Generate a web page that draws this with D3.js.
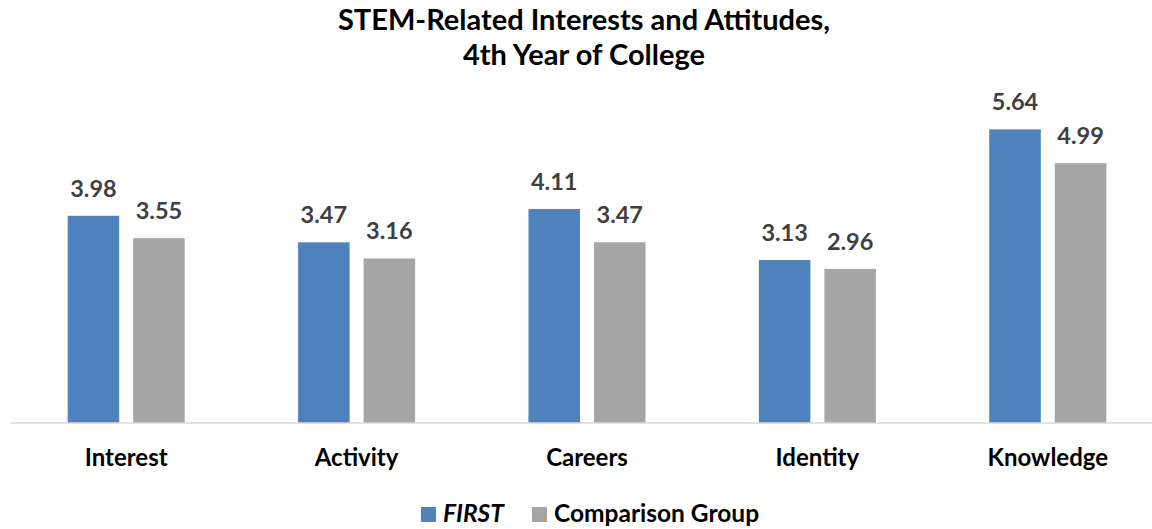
<!DOCTYPE html>
<html>
<head>
<meta charset="utf-8">
<script src="https://cdn.jsdelivr.net/npm/d3@7"></script>
<style>
  html, body { margin: 0; padding: 0; background: #fff; }
  svg { display: block; font-family: Lato, "Open Sans", sans-serif; }
</style>
</head>
<body>
<div id="chart"></div>
<script>
// data
var categories = ["Interest", "Activity", "Careers", "Identity", "Knowledge"];
var seriesNames = ["FIRST", "Comparison Group"];
var firstValues = [3.98, 3.47, 4.11, 3.13, 5.64];
var comparisonValues = [3.55, 3.16, 3.47, 2.96, 4.99];
var titleLines = ["STEM-Related Interests and Attitudes,", "4th Year of College"];

var colors = {"FIRST": "#4f81bd", "Comparison Group": "#a5a5a5"};

var width = 1152, height = 529;
var plot = {left: 11, right: 1163, top: 110.6, bottom: 423};

var svg = d3.select("#chart").append("svg")
    .attr("width", width)
    .attr("height", height);

// title
svg.append("text")
    .attr("text-anchor", "middle")
    .attr("font-weight", 700)
    .attr("font-size", 29)
    .attr("fill", "#000")
    .selectAll("tspan")
    .data(titleLines).enter()
    .append("tspan")
        .attr("x", 584)
        .attr("y", (d, i) => 30 + i * 35)
        .text(d => d);

var x0 = d3.scaleBand()
    .domain(categories)
    .range([plot.left, plot.right])
    .paddingInner(0.492)
    .paddingOuter(0.246);

var x1 = d3.scaleBand()
    .domain(seriesNames)
    .range([0, x0.bandwidth()])
    .paddingInner(0.214);

var y = d3.scaleLinear()
    .domain([0, 6])
    .range([plot.bottom, plot.top]);

var rows = categories.map((c, i) => ({
    category: c,
    values: [
        {key: "FIRST", value: firstValues[i]},
        {key: "Comparison Group", value: comparisonValues[i]}
    ]
}));

var groups = svg.append("g").selectAll("g")
    .data(rows).enter()
    .append("g")
        .attr("transform", d => `translate(${x0(d.category)},0)`);

groups.selectAll("rect")
    .data(d => d.values).enter()
    .append("rect")
        .attr("x", d => x1(d.key))
        .attr("y", d => y(d.value))
        .attr("width", x1.bandwidth())
        .attr("height", d => y(0) - y(d.value))
        .attr("fill", d => colors[d.key]);

groups.selectAll("text.value")
    .data(d => d.values).enter()
    .append("text")
        .attr("class", "value")
        .attr("x", d => x1(d.key) + x1.bandwidth() / 2)
        .attr("y", d => y(d.value) - 19)
        .attr("text-anchor", "middle")
        .attr("font-weight", 700)
        .attr("font-size", 23.5)
        .attr("fill", "#404040")
        .text(d => d.value.toFixed(2));

// x axis
var xAxis = d3.axisBottom(x0).tickSize(0).tickPadding(0);
var axisG = svg.append("g")
    .attr("transform", `translate(0,${plot.bottom})`)
    .call(xAxis);
axisG.select(".domain").remove();
axisG.append("line")
    .attr("x1", plot.left)
    .attr("x2", width)
    .attr("stroke", "#d9d9d9")
    .attr("stroke-width", 1.5);
axisG.selectAll(".tick text")
    .attr("y", 43)
    .attr("dy", 0)
    .attr("font-family", "Lato, 'Open Sans', sans-serif")
    .attr("font-weight", 700)
    .attr("font-size", 24)
    .attr("fill", "#000");

// legend
var legend = svg.append("g").attr("transform", "translate(421,507)");
var legendItems = [
    {key: "FIRST", x: 0, italic: true},
    {key: "Comparison Group", x: 111, italic: false}
];
var li = legend.selectAll("g")
    .data(legendItems).enter()
    .append("g")
        .attr("transform", d => `translate(${d.x},0)`);
li.append("rect")
    .attr("width", 15)
    .attr("height", 15)
    .attr("fill", d => colors[d.key]);
li.append("text")
    .attr("x", 22)
    .attr("y", 15)
    .attr("font-weight", 700)
    .attr("font-style", d => d.italic ? "italic" : "normal")
    .attr("font-size", 24.5)
    .attr("fill", "#000")
    .text(d => d.key);
</script>
</body>
</html>
